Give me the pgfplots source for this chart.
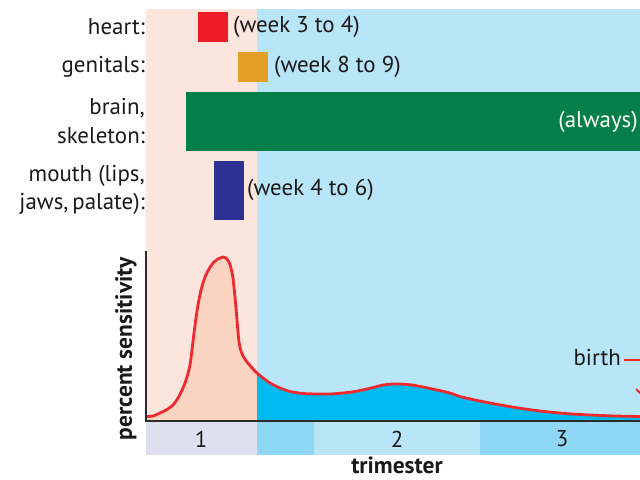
\documentclass[border=0pt]{standalone}
\usepackage{pgfplots}
\pgfplotsset{compat=1.18}
\usepackage{fontspec}
\setmainfont{PT Sans}
\definecolor{bgpink}{HTML}{FCE5DC}
\definecolor{bgblue}{HTML}{B9E5F8}
\definecolor{lav}{HTML}{E0DFF0}
\definecolor{midblue}{HTML}{8FD8F5}
\definecolor{fillpink}{HTML}{FAD3C1}
\definecolor{cyanfill}{HTML}{00BBF0}
\definecolor{cred}{HTML}{EE2A2F}
\definecolor{bred}{HTML}{EE1C25}
\definecolor{borange}{HTML}{E3A024}
\definecolor{bgreen}{HTML}{057F48}
\definecolor{bnavy}{HTML}{2E3191}
\definecolor{axdark}{HTML}{2B2B2B}
\tikzset{lbl/.style={font=\fontsize{23}{28.5}\selectfont, inner sep=0pt, text=black!90},
         blbl/.style={font=\fontsize{23.5}{28}\selectfont\bfseries, inner sep=0pt, text=black!90}}
\begin{document}
\begin{tikzpicture}
\begin{axis}[scale only axis, width=640bp, height=479bp,
  xmin=0, xmax=640, ymin=0, ymax=479, y dir=reverse,
  hide axis, clip=true]
% frame for bounding box
\addplot[draw=none] coordinates {(0,0) (640,479)};
% backgrounds
\addplot[fill=bgpink, draw=none] coordinates {(146,9) (257,9) (257,421) (146,421)} --cycle;
\addplot[fill=bgblue, draw=none] coordinates {(257,9) (640,9) (640,421) (257,421)} --cycle;
% trimester strip
\addplot[fill=lav, draw=none] coordinates {(146,421) (257,421) (257,455) (146,455)} --cycle;
\addplot[fill=midblue, draw=none] coordinates {(257,421) (314,421) (314,455) (257,455)} --cycle;
\addplot[fill=bgblue, draw=none] coordinates {(314,421) (480,421) (480,455) (314,455)} --cycle;
\addplot[fill=midblue, draw=none] coordinates {(480,421) (640,421) (640,455) (480,455)} --cycle;
% bars
\addplot[fill=bred, draw=none] coordinates {(198,12) (228,12) (228,42) (198,42)} --cycle;
\addplot[fill=borange, draw=none] coordinates {(238,52) (268,52) (268,82) (238,82)} --cycle;
\addplot[fill=bgreen, draw=none] coordinates {(186,92) (640,92) (640,151) (186,151)} --cycle;
\addplot[fill=bnavy, draw=none] coordinates {(214,161) (244,161) (244,220) (214,220)} --cycle;
% curve fills
\addplot[fill=fillpink, draw=none] coordinates {
(146,421) (146,416.5) (153,416) (160,413) (167,409.5) (173,405) (178,398) (183,388) (187,377) (190,365) (192,350) (194,333) (196,318) (198,305) (201,290) (205,277) (209,269) (213,263) (218,259) (223,257) (226,258) (229,262) (231,268) (233,278) (234.5,292) (236,308) (237.5,326) (239,342) (241,351) (243,356) (247,362) (253,369) (257,373) (257,421)} --cycle;
\addplot[fill=cyanfill, draw=none] coordinates {
(257,421) (257,373) (263,378) (270,383) (280,388) (290,391.5) (303,393.5) (317,394) (330,394) (343,393) (355,391.5) (367,389) (375,387) (383,385) (392,384) (400,384) (412,385) (423,387) (437,390) (450,393) (460,396.5) (475,400) (490,403) (515,407.5) (540,411) (565,413.5) (590,415) (615,416) (640,416.5) (640,421)} --cycle;
% curve
\addplot[cred, line width=2.8bp, smooth, tension=0.4] coordinates {
(146,416.5) (153,416) (160,413) (167,409.5) (173,405) (178,398) (183,388) (187,377) (190,365) (192,350) (194,333) (196,318) (198,305) (201,290) (205,277) (209,269) (213,263) (218,259) (223,257) (226,258) (229,262) (231,268) (233,278) (234.5,292) (236,308) (237.5,326) (239,342) (241,351) (243,356) (247,362) (253,369) (257,373) (263,378) (270,383) (280,388) (290,391.5) (303,393.5) (317,394) (330,394) (343,393) (355,391.5) (367,389) (375,387) (383,385) (392,384) (400,384) (412,385) (423,387) (437,390) (450,393) (460,396.5) (475,400) (490,403) (515,407.5) (540,411) (565,413.5) (590,415) (615,416) (640,416.5)};
% birth marker
\addplot[cred, line width=1.5bp] coordinates {(624,360) (640,360)};
\addplot[cred, line width=2bp] coordinates {(636,389) (641,394)};
% axis lines
\addplot[axdark, line width=2.5bp] coordinates {(146,251) (146,422.2)};
\addplot[axdark, line width=2.5bp] coordinates {(145,421) (640,421)};
% labels
\node[lbl, anchor=east] at (axis cs:145,27) {heart:};
\node[lbl, anchor=east] at (axis cs:145,67) {genitals:};
\node[lbl, anchor=east, align=right] at (axis cs:145,121) {brain,\\skeleton:};
\node[lbl, anchor=east, align=right] at (axis cs:145,190) {mouth (lips,\\jaws,\,palate):};
\node[lbl, anchor=west] at (axis cs:233,27) {(week 3 to 4)};
\node[lbl, anchor=west] at (axis cs:274,67) {(week 8 to 9)};
\node[lbl, anchor=east, text=white] at (axis cs:638,122) {(always)};
\node[lbl, anchor=west] at (axis cs:247,190) {(week 4 to 6)};
\node[lbl, anchor=east] at (axis cs:621,358) {birth};
\node[lbl] at (axis cs:201,439) {1};
\node[lbl] at (axis cs:397,439) {2};
\node[lbl] at (axis cs:562,439) {3};
\node[blbl] at (axis cs:397,465.5) {trimester};
\node[blbl, rotate=90] at (axis cs:126,349) {percent sensitivity};
\end{axis}
\end{tikzpicture}
\end{document}
